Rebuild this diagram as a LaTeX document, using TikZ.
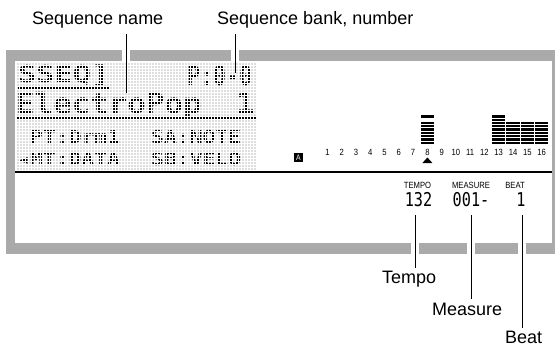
\documentclass[tikz,border=0pt]{standalone}
\usepackage{fontspec}
\setmainfont{Liberation Sans}
\newfontfamily\lcdtop[FakeStretch=1.3]{DejaVu Sans Mono}
\newfontfamily\lcdbig[FakeStretch=1.1]{DejaVu Sans Mono}
\newfontfamily\lcdbank[FakeStretch=0.8]{DejaVu Sans Mono}
\newfontfamily\lcdsmall[FakeStretch=1.2]{DejaVu Sans Mono}
\newfontfamily\segfont[FakeStretch=0.8]{DejaVu Sans Mono}
\newfontfamily\tinyfont[FakeStretch=0.85]{Liberation Sans}
\definecolor{framegray}{RGB}{170,170,170}
\definecolor{dotgray}{RGB}{222,222,222}

\begin{document}
\begin{tikzpicture}[x=1pt,y=-1pt,line cap=butt,
    lbl/.style={inner sep=0pt,anchor=base west,font=\fontsize{18}{21}\selectfont},
    leader/.style={line width=0.8pt},
    lcd/.style={inner sep=0pt,anchor=base west},
    chnum/.style={inner sep=0pt,font=\tinyfont\fontsize{9}{10}\selectfont},
    segtag/.style={inner sep=0pt,font=\tinyfont\fontsize{9}{9}\selectfont},
    seg/.style={inner sep=0pt,font=\segfont\fontsize{19}{20}\selectfont}]
  \useasboundingbox (0,0) rectangle (555,349);
  % frame
  \fill[framegray] (6,50) rectangle (555,254);
  \fill[white] (15,61) rectangle (552,243);
  \foreach \gx in {126,235}
    \fill[white] ({\gx-4},49) rectangle ({\gx+4},61);
  \foreach \gx in {415,471,522}
    \fill[white] ({\gx-4},243) rectangle ({\gx+4},255);
  % dot matrix
  \fill[dotgray] (16,62) rectangle (257,170);
  \node[lcd,font=\lcdtop\bfseries\fontsize{23.3}{24}\selectfont] (sseq) at (18,82) {SSEQ]};
  \node[lcd,font=\lcdbank\bfseries\fontsize{27}{27}\selectfont] (bank) at (187,85) {P:0-0};
  \node[lcd,font=\lcdbig\bfseries\fontsize{28}{29}\selectfont] (seqname) at (16,113) {ElectroPop};
  \node[lcd,font=\lcdbig\bfseries\fontsize{28}{29}\selectfont] (seqnum) at (236,113) {1};
  \node[lcd,font=\lcdsmall\bfseries\fontsize{17.8}{18}\selectfont] (pt) at (30,143) {PT:Drm1};
  \node[lcd,font=\lcdsmall\bfseries\fontsize{17.8}{18}\selectfont] (sa) at (151,143) {SA:NOTE};
  \node[lcd,font=\lcdsmall\bfseries\fontsize{17.8}{18}\selectfont] (mt) at (17,165) {◂MT:DATA};
  \node[lcd,font=\lcdsmall\bfseries\fontsize{17.8}{18}\selectfont] (sb) at (151,165) {SB:VELO};
  \draw[line width=2.2pt] (18,87.5) -- (110,87.5);
  \draw[line width=2.2pt] (16,117.5) -- (257,117.5);
  \foreach \gx in {16,19,...,257}
    \draw[white,line width=0.6pt] (\gx,62) -- (\gx,170);
  \foreach \gy in {62,65,...,170}
    \draw[white,line width=0.6pt] (16,\gy) -- (257,\gy);
  \draw[line width=2.2pt] (15,172) -- (552,172);
  % tracks
  \node[fill=black,text=white,minimum size=9pt,inner sep=0pt,
        font=\tinyfont\fontsize{8}{8}\selectfont] (part) at (298.5,157.5) {A};
  \foreach \i in {1,...,16}
    \node[chnum] (ch\i) at ({327.5+(\i-1)*14.27},152) {\i};
  \foreach \i/\n in {8/6,13/8,14/6,15/6,16/6}
    \foreach \k in {0,...,\n}
      \fill ({327.5+(\i-1)*14.27-6.6},{141.6-3.3*\k}) rectangle ++(13.2,2.3);
  \fill ({327.5+7*14.27-6.6},115.2) rectangle ++(13.2,2.3);
  \fill (422.4,163) -- (427.4,157.5) -- (432.4,163) -- cycle;
  % tempo, measure, beat
  \node[segtag] (tempotag) at (417.5,185) {TEMPO};
  \node[segtag] (measuretag) at (471,185) {MEASURE};
  \node[segtag] (beattag) at (515,185) {BEAT};
  \node[seg] (tempoval) at (418.5,200) {132};
  \node[seg] (measureval) at (471,200) {001-};
  \node[seg] (beatval) at (521,200) {1};
  % callouts
  \node[lbl] (namelbl) at (32,24) {Sequence name};
  \node[lbl] (banklbl) at (217,24) {Sequence bank, number};
  \node[lbl] (tempo) at (382,283) {Tempo};
  \node[lbl] (measure) at (432,315) {Measure};
  \node[lbl] (beat) at (505,343) {Beat};
  \coordinate (namept) at (126,93);
  \coordinate (bankpt) at (235,73);
  \coordinate (tempopt) at (415,215);
  \coordinate (measurept) at (471,215);
  \coordinate (beatpt) at (522,215);
  \draw[leader] ([yshift=-6pt]namelbl.south -| namept) -- (namept);
  \draw[leader] ([yshift=-6pt]banklbl.south -| bankpt) -- (bankpt);
  \draw[leader] (tempopt) -- ([yshift=2pt]tempo.north -| tempopt);
  \draw[leader] (measurept) -- ([yshift=3pt]measure.north -| measurept);
  \draw[leader] (beatpt) -- ([yshift=2pt]beat.north -| beatpt);
\end{tikzpicture}
\end{document}
